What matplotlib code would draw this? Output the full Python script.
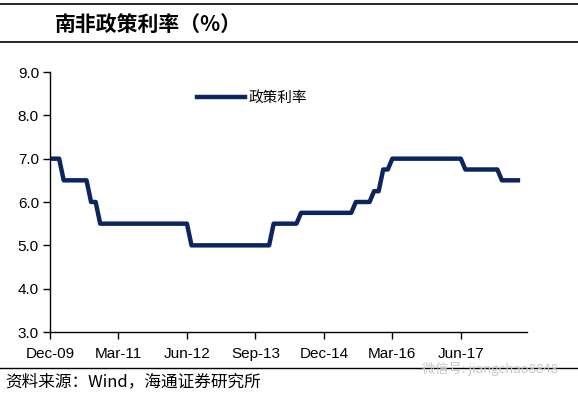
import matplotlib
matplotlib.use('Agg')
from matplotlib import pyplot as plt
from matplotlib.lines import Line2D

plt.rcParams['font.family'] = ['Liberation Sans', 'Noto Sans CJK SC', 'DejaVu Sans']

# Monthly repo rate, Dec-2009 .. Jul-2018
rate_2009 = [7.0]
rate_2010 = [7.0, 7.0, 6.5, 6.5, 6.5, 6.5, 6.5, 6.5, 6.0, 6.0, 5.5, 5.5]
rate_2011 = [5.5] * 12
rate_2012 = [5.5, 5.5, 5.5, 5.5, 5.5, 5.5, 5.0, 5.0, 5.0, 5.0, 5.0, 5.0]
rate_2013 = [5.0] * 12
rate_2014 = [5.5, 5.5, 5.5, 5.5, 5.5, 5.5, 5.75, 5.75, 5.75, 5.75, 5.75, 5.75]
rate_2015 = [5.75, 5.75, 5.75, 5.75, 5.75, 5.75, 6.0, 6.0, 6.0, 6.0, 6.25, 6.25]
rate_2016 = [6.75, 6.75, 7.0, 7.0, 7.0, 7.0, 7.0, 7.0, 7.0, 7.0, 7.0, 7.0]
rate_2017 = [7.0, 7.0, 7.0, 7.0, 7.0, 7.0, 6.75, 6.75, 6.75, 6.75, 6.75, 6.75]
rate_2018 = [6.75, 6.75, 6.5, 6.5, 6.5, 6.5, 6.5]

rates = (rate_2009 + rate_2010 + rate_2011 + rate_2012 + rate_2013
         + rate_2014 + rate_2015 + rate_2016 + rate_2017 + rate_2018)
months = list(range(len(rates)))

tick_pos = [0, 15, 30, 45, 60, 75, 90]
tick_labels = ['Dec-09', 'Mar-11', 'Jun-12', 'Sep-13', 'Dec-14', 'Mar-16', 'Jun-17']
y_ticks = [3.0, 4.0, 5.0, 6.0, 7.0, 8.0, 9.0]

title = '南非政策利率（%）'
legend_label = '政策利率'
source = '资料来源：Wind，海通证券研究所'
watermark = '微信号: jiangchao8848'

navy = '#0b2560'

fig = plt.figure(figsize=(5.78, 3.95), dpi=100)
W, H = 578.0, 395.0

# axes placed in pixel coords: left 50, right 527, top 72, bottom 332
ax = fig.add_axes([50 / W, 1 - 332 / H, (527 - 50) / W, (332 - 72) / H])
ax.plot(months, rates, color=navy, lw=3.2, solid_joinstyle='round',
        solid_capstyle='butt')

ax.set_xlim(0, 104.5)
ax.set_ylim(3.0, 9.0)
ax.set_yticks(y_ticks)
ax.set_yticklabels(['%.1f' % v for v in y_ticks])
ax.set_xticks(tick_pos)
ax.set_xticklabels(tick_labels)
ax.tick_params(axis='both', direction='out', length=5, width=1,
               labelsize=11, colors='black')
ax.tick_params(axis='x', pad=6)
ax.tick_params(axis='y', pad=3)
ax.spines['top'].set_visible(False)
ax.spines['right'].set_visible(False)
for s in ('left', 'bottom'):
    ax.spines[s].set_linewidth(1)

handle = Line2D([], [], color=navy, lw=3.2)
ax.legend([handle], [legend_label], loc='upper left',
          bbox_to_anchor=(134 / 477, 1 - 6 / 260), frameon=False,
          handlelength=3.3, handletextpad=0.2,
          prop={'family': ['Noto Sans CJK SC'], 'size': 10.5})

# header / footer rules
fig.add_artist(Line2D([0, 1], [1 - 4 / H, 1 - 4 / H], color='black', lw=1.2))
fig.add_artist(Line2D([0, 1], [1 - 42 / H, 1 - 42 / H], color='black', lw=1.2))
fig.add_artist(Line2D([0, 1], [1 - 368 / H, 1 - 368 / H], color='black', lw=1.0))

fig.text(55 / W, 1 - 24 / H, title, fontsize=15, fontweight='bold',
         va='center', ha='left', family=['Noto Sans CJK SC'])
fig.text(5 / W, 1 - 382 / H, source, fontsize=12, va='center', ha='left',
         family=['Noto Sans CJK SC', 'DejaVu Sans'])
fig.text(558 / W, 1 - 369 / H, watermark, fontsize=9.5, va='center', ha='right',
         color='#c8c8c8', family=['Noto Sans CJK SC', 'DejaVu Sans'])

fig.savefig('out.png', dpi=100)
